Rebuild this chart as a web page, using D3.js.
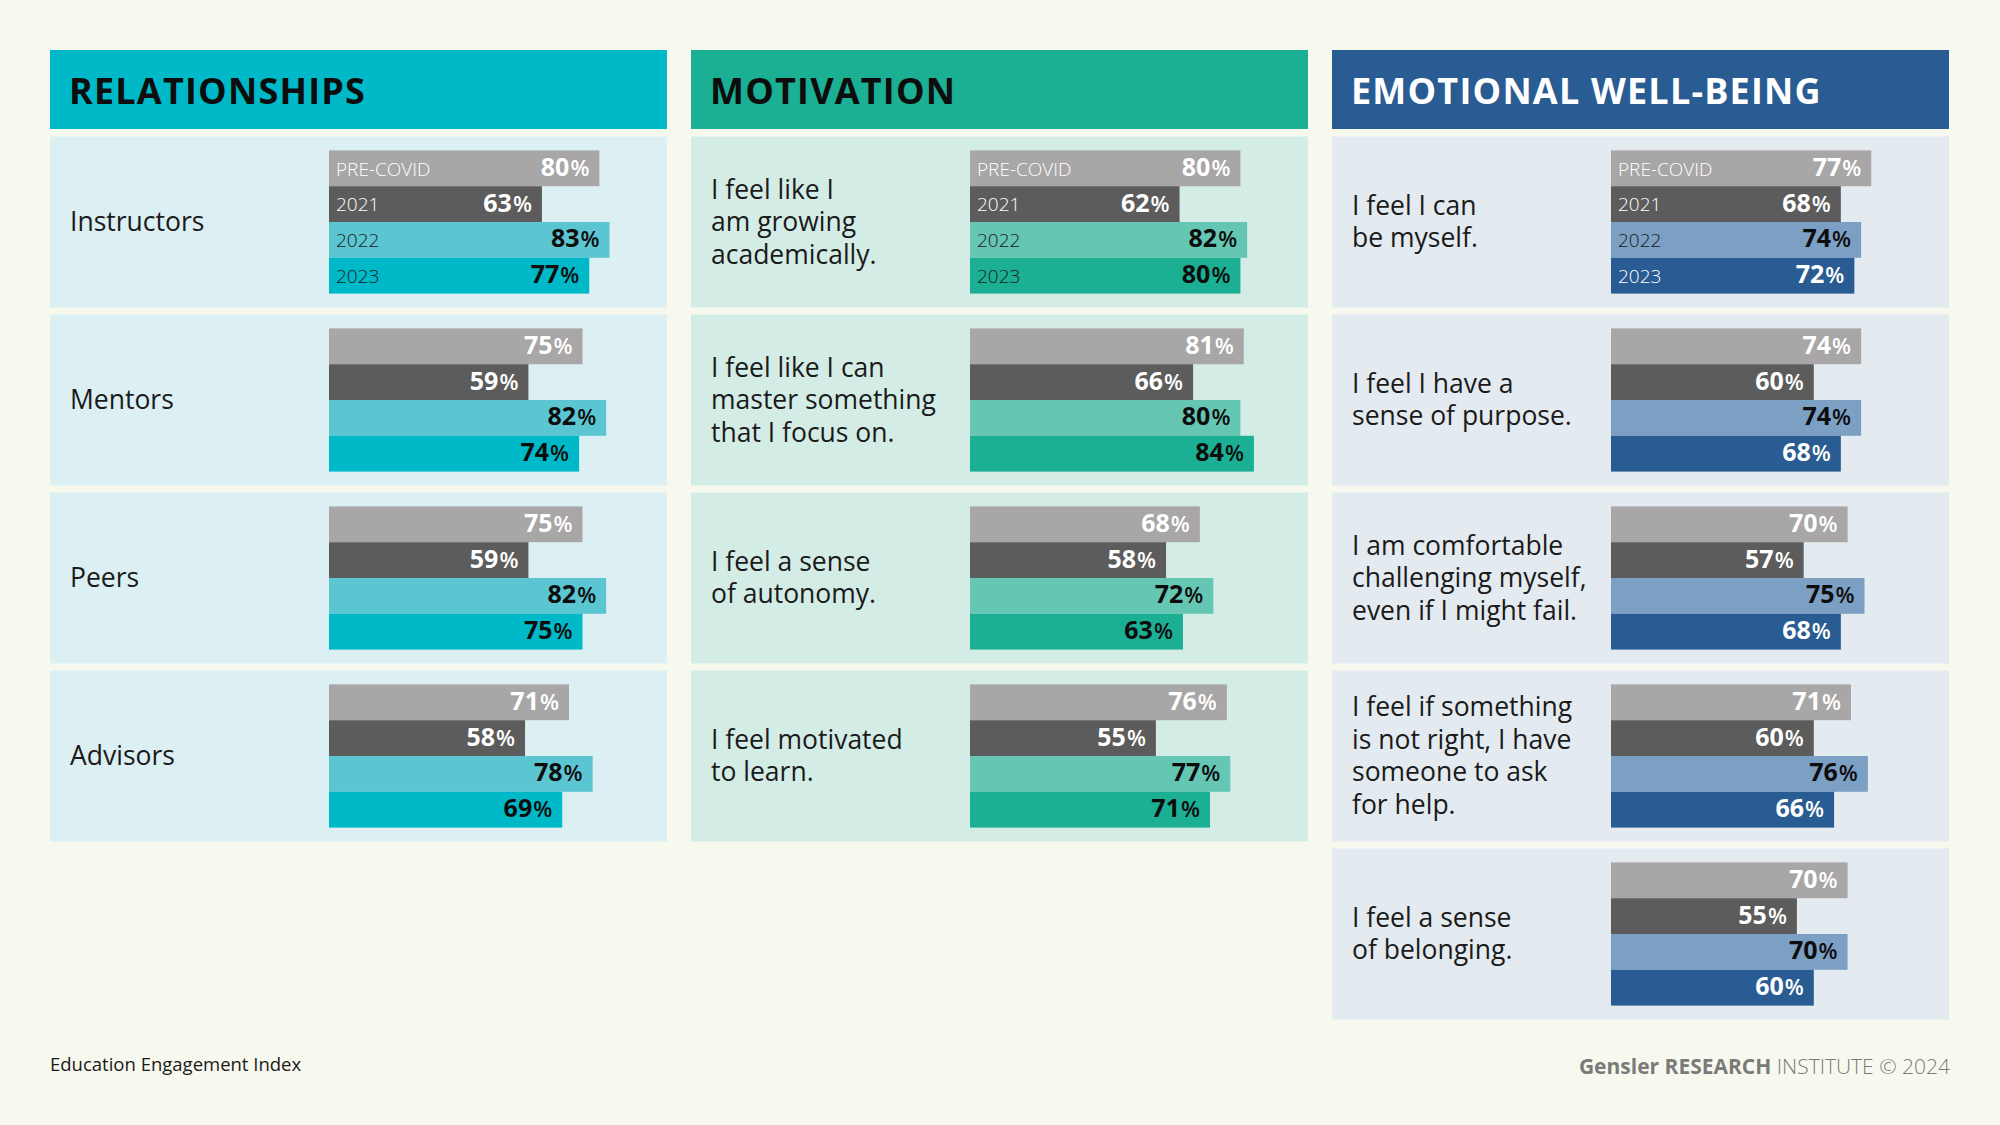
<!DOCTYPE html>
<html><head><meta charset="utf-8">
<script src="https://cdn.jsdelivr.net/npm/d3@7"></script>
<style>
html,body{margin:0;padding:0;background:#F8F9EE;}
svg{display:block;font-family:"Open Sans",sans-serif;}
</style></head>
<body>
<svg id="chart" width="2000" height="1125"></svg>
<script>
// ---------- DATA ----------
const years = ["PRE-COVID", "2021", "2022", "2023"];
const sectionTitles = ["RELATIONSHIPS", "MOTIVATION", "EMOTIONAL WELL-BEING"];

const relLabels = [["Instructors"], ["Mentors"], ["Peers"], ["Advisors"]];
const relValues = [[80, 63, 83, 77], [75, 59, 82, 74], [75, 59, 82, 75], [71, 58, 78, 69]];

const motLabels = [
  ["I feel like I", "am growing", "academically."],
  ["I feel like I can", "master something", "that I focus on."],
  ["I feel a sense", "of autonomy."],
  ["I feel motivated", "to learn."]
];
const motValues = [[80, 62, 82, 80], [81, 66, 80, 84], [68, 58, 72, 63], [76, 55, 77, 71]];

const ewbLabels = [
  ["I feel I can", "be myself."],
  ["I feel I have a", "sense of purpose."],
  ["I am comfortable", "challenging myself,", "even if I might fail."],
  ["I feel if something", "is not right, I have", "someone to ask", "for help."],
  ["I feel a sense", "of belonging."]
];
const ewbValues = [[77, 68, 74, 72], [74, 60, 74, 68], [70, 57, 75, 68], [71, 60, 76, 66], [70, 55, 70, 60]];

const footLeft = "Education Engagement Index";

// ---------- STYLE ----------
const sections = [
  {title: sectionTitles[0], labels: relLabels, values: relValues,
   head: "#00B9C8", headText: "#0d0d0d", panel: "#DCEFF2",
   bars: ["#A8A6A6", "#5B5C5B", "#5CC5D2", "#00B9C8"],
   valText: ["#fff", "#fff", "#0d0d0d", "#0d0d0d"], yearText: ["#fff", "#fff", "#1a1a1a", "#1a1a1a"]},
  {title: sectionTitles[1], labels: motLabels, values: motValues,
   head: "#1BAF94", headText: "#0d0d0d", panel: "#D4ECE6",
   bars: ["#A8A6A6", "#5B5C5B", "#66C6B4", "#1BAF94"],
   valText: ["#fff", "#fff", "#0d0d0d", "#0d0d0d"], yearText: ["#fff", "#fff", "#1a1a1a", "#1a1a1a"]},
  {title: sectionTitles[2], labels: ewbLabels, values: ewbValues,
   head: "#295C92", headText: "#fff", panel: "#E3EAF0",
   bars: ["#A8A6A6", "#5B5C5B", "#7C9FC4", "#285C92"],
   valText: ["#fff", "#fff", "#0d0d0d", "#fff"], yearText: ["#fff", "#fff", "#1a1a1a", "#fff"]}
];

const svg = d3.select("#chart");
svg.append("rect").attr("width", 2000).attr("height", 1125).attr("fill", "#F8F9EE");

const colX = d3.scaleBand().domain(d3.range(3)).range([50, 50 + 641 * 3 - 24]).paddingInner(24 / 641);
const rowY = d3.scaleBand().domain(d3.range(5)).range([136.5, 136.5 + 178 * 5 - 7]).paddingInner(7 / 178);
const x = d3.scaleLinear().domain([0, 100]).range([0, 338]);
const barOffset = 279;

sections.forEach((s, ci) => {
  const cx = colX(ci), cw = colX.bandwidth();
  const g = svg.append("g");
  g.append("rect").attr("x", cx).attr("y", 50).attr("width", cw).attr("height", 79).attr("fill", s.head);
  g.append("text").attr("x", cx + 19).attr("y", 104).attr("fill", s.headText)
    .attr("font-size", 36).attr("font-weight", 700).attr("letter-spacing", 1.2).text(s.title);

  s.values.forEach((vals, ri) => {
    const py = rowY(ri), ph = rowY.bandwidth();
    g.append("rect").attr("x", cx).attr("y", py).attr("width", cw).attr("height", ph).attr("fill", s.panel);
    const lines = s.labels[ri];
    const lh = 32.5;
    const ty = py + ph / 2 - (lines.length - 1) * lh / 2 + 9;
    const t = g.append("text").attr("font-size", 26.5).attr("fill", "#1a1a1a");
    lines.forEach((ln, li) => t.append("tspan").attr("x", cx + 20).attr("y", ty + li * lh).text(ln));

    const yb = d3.scaleBand().domain(years).range([py + ph / 2 - 71.6, py + ph / 2 + 71.6]);
    const bx = cx + barOffset;
    years.forEach((yr, k) => {
      const v = vals[k];
      const by = yb(yr), bh = yb.bandwidth();
      g.append("rect").attr("x", bx).attr("y", by).attr("width", x(v)).attr("height", bh).attr("fill", s.bars[k]);
      if (ri === 0) {
        g.append("text").attr("x", bx + 7).attr("y", by + bh / 2 + 7.3).attr("font-size", 19)
          .attr("font-weight", 300).attr("fill", s.yearText[k]).text(yr);
      }
      const vt = g.append("text").attr("x", bx + x(v) - 10).attr("y", by + bh / 2 + 7.5)
        .attr("text-anchor", "end").attr("fill", s.valText[k]);
      vt.append("tspan").attr("font-size", 25).attr("font-weight", 700).text(v);
      vt.append("tspan").attr("font-size", 22).attr("font-weight", 600).attr("dx", 1).text("%");
    });
  });
});

svg.append("text").attr("x", 50).attr("y", 1071).attr("font-size", 18.5).attr("fill", "#1a1a1a").text(footLeft);
const fr = svg.append("text").attr("x", 1950).attr("y", 1074).attr("text-anchor", "end").attr("font-size", 21).attr("fill", "#7a7a7a");
fr.append("tspan").attr("font-weight", 700).text("Gensler RESEARCH ");
fr.append("tspan").attr("font-weight", 300).text("INSTITUTE © 2024");
</script>
</body></html>
